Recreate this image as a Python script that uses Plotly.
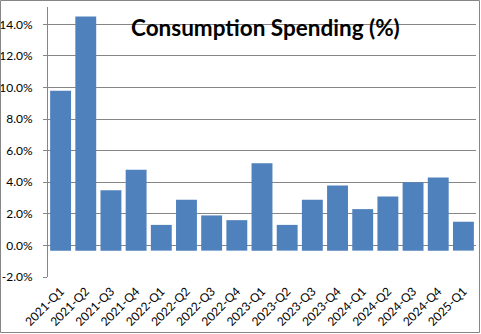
import plotly.graph_objects as go

categories = ["2021-Q1", "2021-Q2", "2021-Q3", "2021-Q4",
              "2022-Q1", "2022-Q2", "2022-Q3", "2022-Q4",
              "2023-Q1", "2023-Q2", "2023-Q3", "2023-Q4",
              "2024-Q1", "2024-Q2", "2024-Q3", "2024-Q4",
              "2025-Q1"]
spending = [9.8, 14.5, 3.5, 4.8,
            1.3, 2.9, 1.9, 1.6,
            5.2, 1.3, 2.9, 3.8,
            2.3, 3.1, 4.0, 4.3,
            1.5]
bar_base = -0.33
y_ticks = [-2, 0, 2, 4, 6, 8, 10, 12, 14]
y_tick_labels = ["-2.0%", "0.0%", "2.0%", "4.0%", "6.0%", "8.0%", "10.0%", "12.0%", "14.0%"]

W, H = 481, 334
ML, MR, MT, MB = 48, 5, 7, 57
pw, ph = W - ML - MR, H - MT - MB

fig = go.Figure()
fig.add_trace(go.Bar(
    x=categories,
    y=[v - bar_base for v in spending],
    base=bar_base,
    marker=dict(color="#4F81BD", line=dict(width=0)),
    hovertext=[f"{v:.1f}%" for v in spending],
))

grid = "#868686"
fig.update_layout(
    width=W, height=H,
    margin=dict(l=ML, r=MR, t=MT, b=MB),
    paper_bgcolor="white", plot_bgcolor="white",
    bargap=0.17,
    showlegend=False,
    font=dict(family="Lato, Open Sans, sans-serif", size=12, color="#000000"),
    xaxis=dict(
        type="category",
        range=[-0.5, len(categories) - 0.5],
        tickangle=-45,
        showgrid=False,
        showline=False,
        ticks="",
        ticklabelstandoff=4,
        automargin=False,
        tickfont=dict(size=12),
    ),
    yaxis=dict(
        range=[-2, 15.1],
        tickvals=y_ticks,
        ticktext=y_tick_labels,
        showgrid=True, gridcolor=grid, gridwidth=1,
        zeroline=True, zerolinecolor=grid, zerolinewidth=1,
        showline=True, linecolor=grid, linewidth=1,
        ticks="outside", ticklen=4, tickcolor=grid,
        ticklabelstandoff=8,
        automargin=False,
        tickfont=dict(size=12),
    ),
    annotations=[dict(
        text="<b>Consumption Spending (%)</b>",
        xref="paper", yref="paper",
        x=(265 - ML) / pw, y=1 - (28 - MT) / ph,
        xanchor="center", yanchor="middle",
        showarrow=False,
        font=dict(family="Lato, Open Sans, sans-serif", size=22.5, color="#000000"),
    )],
    shapes=[dict(
        type="rect", xref="paper", yref="paper",
        x0=(0.5 - ML) / pw, x1=(W - 1.5 - ML) / pw,
        y0=1 + (MT - 0.5) / ph, y1=-(MB - 1.5) / ph,
        line=dict(color=grid, width=1), layer="above",
    )],
)

fig.write_html("out.html")
